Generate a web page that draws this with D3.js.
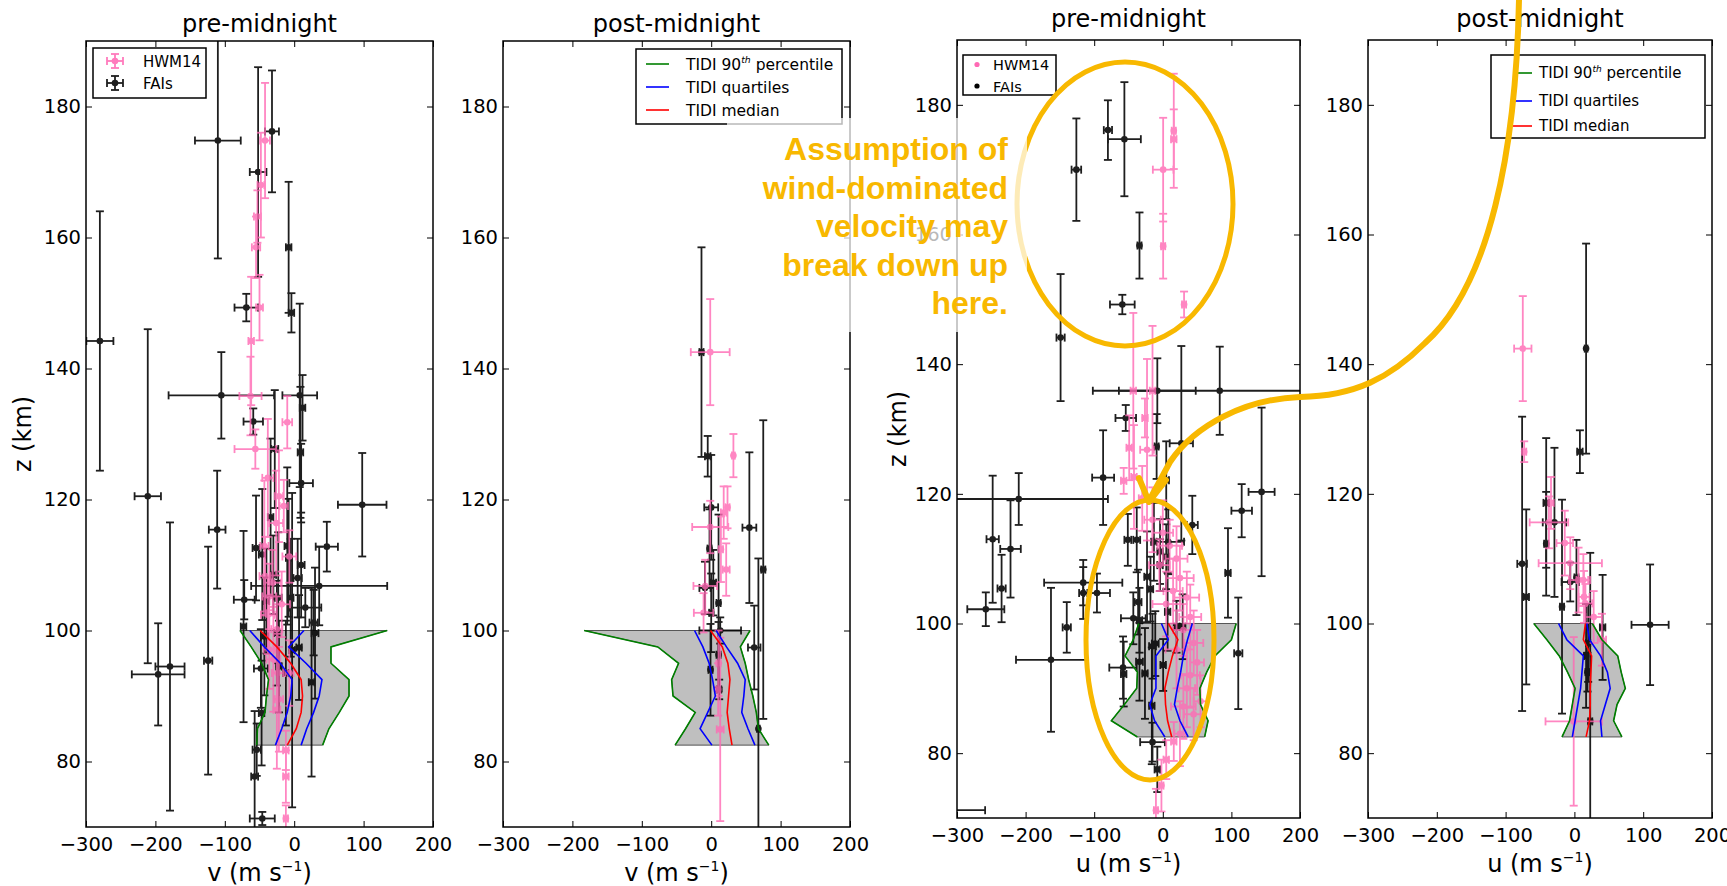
<!DOCTYPE html>
<html>
<head>
<meta charset="utf-8">
<script src="https://cdnjs.cloudflare.com/ajax/libs/d3/7.8.5/d3.min.js"></script>
<style>
  body { margin: 0; background: #fff; }
  svg { font-family: "DejaVu Sans", sans-serif; }
</style>
</head>
<body>
<svg id="chart" width="1727" height="886"></svg>
<script>
// ---- data: errorbar points are [wind, altitude, windErr, altErr] ----
const faiV_pre = [
  [-110,174.8,33,18],[-32,176.2,10,9.3],[-52,170,12,16],[-8,158.5,4,10],[-69,149.3,17,2.1],
  [-4,148.5,4,3],[-280,144.2,19.5,19.8],[-105,135.9,76,6.6],[8,135.9,25,14],[-59,131.9,14,2],
  [12,134,4,5],[-28,127.7,5,9],[9,127.2,4,10],[10,122.5,17,6],[-211,120.5,19,25.5],
  [98,119.2,35,7.9],[-111,115.4,12,9],[-34,117.3,4,12],[-55,112.6,5,8],[-46,111.6,5,10],
  [-10,112.9,4,12],[-8,111.1,4,9],[47,112.8,16,3.8],[36,106.8,98,6],[-40,104.5,4,8],
  [-23,105,5,10],[-5,105,4,9],[16,103.5,23,3],[-72,104.7,15,3],[-73,100.6,4,14.6],
  [30,99.6,5,10],[-43,99.1,5,9],[-25,99.6,4,8],[7,97.4,4,8],[-3,97,4,24],
  [-22,94.5,4,7],[-12,93.5,4,8],[-48,94.2,10,6],[25,92.1,4,14.4],[-179,94.5,21,22],
  [-196,93.3,38,7.8],[-124,95.4,6,17.4],[-47,87.4,4,8],[-54,81.8,6,4],[-57,77.7,5,10],
  [-46,71.3,18,1],[10,110,5,8],[5,108,6,6],[-30,108.5,4,6],[28,101.2,6,5]
];
const hwmV_pre = [
  [-42,174.8,7,8.8],[-48,168,5,8],[-53,163.2,5,4],[-55,158.5,6,4.7],[-50,149.3,5,5],
  [-62,144.2,4,9.8],[-63,135.8,16,6],[-10,131.8,7,4],[-56,127.7,30,3],[-38,123.3,8,9],
  [-22,120.5,6,7],[-26,116.4,10,8],[-43,112.9,6,10],[-7,111.3,10,4],[-42,108.3,8,6],
  [-31,107.3,12,5],[-36,105.2,10,5],[-38,102.4,10,6],[-25,100.2,8,5],[-36,97.1,8,6],
  [-30,95.6,10,8],[-24,93.5,8,6],[-7,93.5,6,5],[-22,89.5,6,8],[-25,87.9,5,9],
  [-12,81.7,4,3],[-12,77.7,4,4],[-12,71.3,3,2],[-15,119,6,4],[-18,104,12,5]
];
const faiV_post = [
  [-14,142.5,3,16],[-5,126.6,4,3.1],[0,118.8,10,8],[-2.4,112.5,3,6],[3,107.3,4,5],
  [-9,106.5,8,4],[0,102.7,3,6],[10.6,104.2,3,13.5],[13,100,30,2],[10.6,96.3,3,5],
  [11.5,91,3,1.5],[-1,94,3,7],[55,115.7,10,11.5],[75,109.3,3,22.8],[62,97.4,9,6.4],
  [68,85,2,26]
];
const hwmV_post = [
  [-1.4,142.5,28,8.1],[32,126.7,2,3.3],[23.5,118.8,3,3.2],[-1.4,115.8,26,4],[14,112.4,3,5],
  [21.6,109.3,5,4],[-8.6,106.8,17,4],[-11,102.7,14,3],[10.6,95,3,5],[10,91,3,4],
  [13,84.9,5,14],[18,118,4,4]
];
const faiU_pre = [
  [-126,170,7,7.9],[-80,176.1,6,4.6],[-56,174.7,24,8.8],[-34,158.3,3,5.1],[-59,149.2,18,1.5],
  [-149,144.1,6,9.8],[-8,135.9,56,5],[83,135.9,185,6.8],[27,127.8,17,15],[-54,131.7,15,2],
  [-9,127.3,3,5],[-87,122.5,16,7.3],[-210,119.2,130,4],[-248,113,9,9.8],[-222,111.5,15,7.5],
  [-235,105.4,6,5.2],[-258,102.2,27,2.6],[-140,99.4,6,3.9],[-163,94.4,51,11.1],[-116,106.3,57,3.5],
  [-116,104.7,6,4],[-96,104.7,19,3],[95,107.8,4,6.9],[115,117.4,15,4.1],[144,120.3,19,13],
  [110,95.4,6,8.6],[43,115.2,8,4.5],[-8,77.5,4,3.5],[-15,81.7,18,3],[-58,93.2,20,4.8],
  [-57,92.2,4,5],[0.5,93.6,4,4],[-26,92.3,4,7],[-34,94.1,5,6],[-16,87.3,4,9],
  [-43,100.8,18,4],[-36,103.3,5,5],[-34,100.5,4,5],[-23,107.2,4,7],[-18,105.3,4,5],
  [-51,112.9,5,4],[-38,112.9,5,5],[-13,112.6,4,6],[-4,111.1,4,5],[8,112.6,23,5],
  [5,110.3,4,5],[-4,109,4,4],[7,101.8,4,6],[20,99.5,4,4],[29,99.5,4,5],
  [-15,96.5,5,5],[-11,96.9,5,5],[5,122.1,4,6],[-330,71.2,71,1]
];
const hwmU_pre = [
  [16,176,3,8.8],[16,174.7,4,4.6],[0.5,170,15,8],[0.5,158.2,3,5],[31,149.2,3,2],
  [-43,135.9,4,12],[-15,135.9,4,10],[-26,131.7,4,3],[-49,127.1,4,5],[-23,126.8,10,14],
  [-42,122.6,4,8],[-57,122,4,2],[-30,119.3,5,5],[-15,116,12,5],[0,114,15,5],
  [10,112,18,4],[20,110,16,5],[-5,109,15,4],[25,107,20,5],[15,105,14,5],
  [35,104,18,4],[5,103,20,5],[40,101,16,5],[30,99,15,4],[45,97,14,5],
  [20,96,16,6],[50,94,10,5],[40,92,14,5],[35,90,12,6],[55,88,10,4],
  [30,87.2,18,5],[45,86,14,4],[25,83,8,5],[16,81.8,4,3],[5,79,4,3],
  [-2,75,3,4],[-10,71.2,3,3.3]
];
const faiU_post = [
  [17,142.4,2,16.2],[8,126.5,4,3.3],[-76,109.2,7,22.7],[-70,104.1,4,13.5],[-41,118.6,4,10],
  [-41,112.3,3,8],[-29,115.6,17,11.5],[-18,102.6,3,16.5],[-6,106.4,12.6,3],[3,107.1,3,5.8],
  [23,84.9,3,26],[41,99.4,4,8.1],[110,99.8,27,9.3],[20,97,3,6],[19,92.5,3,3],[17,95,3,8]
];
const hwmU_post = [
  [-75,142.4,12.6,8.1],[-73,126.5,3,1.6],[-34,118.6,4,4],[-37,115.6,28,4],[-14,112.4,12,5],
  [-6,109.3,46,4],[6,106.7,14,5],[13,106.7,10,4],[14,104.1,8,4],[16,103.1,10,3],
  [28,101,12,4],[40,97.5,6,4],[-1,84.9,41,13]
];

// TIDI profiles (km) and percentiles
const tidiAlt = [100, 97.5, 95, 92.5, 90, 87.5, 85, 82.5];
const tidiV_pre = {
  lo:  [-78, -62, -47, -37, -40, -42, -53, -54],
  q1:  [-64, -43, -20, -3, -5, -10, -18, -27],
  med: [-49, -25, -5, 10, 12, 10, 3, -10],
  q3:  [14, -8, 17, 40, 36, 28, 18, 10],
  hi:  [134, 53, 53, 79, 79, 65, 50, 41]
};
const tidiV_post = {
  lo:  [-183, -77, -47, -57, -55, -23, -37, -52],
  q1:  [-24, -12, -3, 2, 6, -5, -16, 1],
  med: [-1, 16, 24, 27, 25, 23, 26, 30],
  q3:  [7, 22, 38, 49, 47, 44, 53, 63],
  hi:  [56, 42, 49, 54, 60, 65, 68, 83]
};
const tidiU_pre = {
  lo:  [-35, -43, -55, -37, -38, -56, -75, -37],
  q1:  [-2, 8, -10, -10, -10, -19, -12, 3],
  med: [8, 22, 14, 8, 3, 4, 7, 13],
  q3:  [43, 36, 30, 26, 21, 17, 25, 37],
  hi:  [107, 100, 76, 64, 54, 55, 66, 61]
};
const tidiU_post = {
  lo:  [-59, -40, -22, -10, 1, -3, -7, -18],
  q1:  [-23, -11, 13, 11, 9, 5, 1, -3],
  med: [16, 13, 25, 24, 23, 23, 22, 17],
  q3:  [18, 22, 38, 48, 52, 45, 38, 40],
  hi:  [26, 40, 63, 68, 74, 62, 57, 69]
};

const xTicks = [-300, -200, -100, 0, 100, 200];
const yTicks = [80, 100, 120, 140, 160, 180];

const PINK = "#ff69b4", GREEN = "#007f00", BLUE = "#0000ff", RED = "#ff0000";

const svg = d3.select("#chart");

const panels = [
  { id: "p1", left: 86, right: 433, top: 41, bottom: 827, title: "pre-midnight", titleY: 32,
    xlab: "v", ylabX: 23, fai: faiV_pre, hwm: hwmV_pre, tidi: tidiV_pre, legend: "err" },
  { id: "p2", left: 503, right: 850, top: 41, bottom: 827, title: "post-midnight", titleY: 32,
    xlab: "v", ylabX: null, fai: faiV_post, hwm: hwmV_post, tidi: tidiV_post, legend: "tidi" },
  { id: "p3", left: 957, right: 1300, top: 40, bottom: 818, title: "pre-midnight", titleY: 27,
    xlab: "u", ylabX: 898, fai: faiU_pre, hwm: hwmU_pre, tidi: tidiU_pre, legend: "dot" },
  { id: "p4", left: 1368, right: 1712, top: 40, bottom: 818, title: "post-midnight", titleY: 27,
    xlab: "u", ylabX: null, fai: faiU_post, hwm: hwmU_post, tidi: tidiU_post, legend: "tidi2" }
];

function errorbars(g, data, x, y, color, opacity) {
  const cap = 4;
  const grp = g.append("g").attr("stroke", color).attr("fill", color)
    .attr("stroke-width", 1.8).attr("opacity", opacity);
  const eb = grp.selectAll("g").data(data).join("g");
  eb.append("line")
    .attr("x1", d => x(d[0] - d[2])).attr("x2", d => x(d[0] + d[2]))
    .attr("y1", d => y(d[1])).attr("y2", d => y(d[1]));
  eb.append("line")
    .attr("x1", d => x(d[0])).attr("x2", d => x(d[0]))
    .attr("y1", d => y(d[1] - d[3])).attr("y2", d => y(d[1] + d[3]));
  // caps
  [-1, 1].forEach(s => {
    eb.append("line")
      .attr("x1", d => x(d[0] + s * d[2])).attr("x2", d => x(d[0] + s * d[2]))
      .attr("y1", d => y(d[1]) - cap).attr("y2", d => y(d[1]) + cap);
    eb.append("line")
      .attr("x1", d => x(d[0]) - cap).attr("x2", d => x(d[0]) + cap)
      .attr("y1", d => y(d[1] + s * d[3])).attr("y2", d => y(d[1] + s * d[3]));
  });
  eb.append("circle").attr("cx", d => x(d[0])).attr("cy", d => y(d[1])).attr("r", 3.3).attr("stroke", "none");
}

function legendErr(g, cx, cy, color) {
  const s = g.append("g").attr("stroke", color).attr("fill", color).attr("stroke-width", 1.8).attr("opacity", 0.88);
  s.append("line").attr("x1", cx - 8).attr("x2", cx + 8).attr("y1", cy).attr("y2", cy);
  s.append("line").attr("x1", cx).attr("x2", cx).attr("y1", cy - 7).attr("y2", cy + 7);
  [-1, 1].forEach(k => {
    s.append("line").attr("x1", cx + k * 8).attr("x2", cx + k * 8).attr("y1", cy - 4).attr("y2", cy + 4);
    s.append("line").attr("x1", cx - 4).attr("x2", cx + 4).attr("y1", cy + k * 7).attr("y2", cy + k * 7);
  });
  s.append("circle").attr("cx", cx).attr("cy", cy).attr("r", 3.3).attr("stroke", "none");
}

function tidiLegend(g, bx, by, bw, bh, lx1, lx2, tx, ys, fs) {
  g.append("rect").attr("x", bx).attr("y", by).attr("width", bw).attr("height", bh)
    .attr("fill", "#fff").attr("stroke", "#000").attr("stroke-width", 1.5);
  const items = [{ c: GREEN, t: "TIDI 90", sup: "th", rest: " percentile" },
                 { c: BLUE, t: "TIDI quartiles" }, { c: RED, t: "TIDI median" }];
  items.forEach((it, i) => {
    g.append("line").attr("x1", lx1).attr("x2", lx2).attr("y1", ys[i]).attr("y2", ys[i])
      .attr("stroke", it.c).attr("stroke-width", 1.6);
    const t = g.append("text").attr("x", tx).attr("y", ys[i] + fs * 0.36).attr("font-size", fs).text(it.t);
    if (it.sup) {
      t.append("tspan").attr("dy", -fs * 0.4).attr("font-size", fs * 0.6).attr("font-style", "italic").text(it.sup);
      t.append("tspan").attr("dy", fs * 0.4).text(it.rest);
    }
  });
}

panels.forEach(p => {
  const x = d3.scaleLinear().domain([-300, 200]).range([p.left, p.right]);
  const y = d3.scaleLinear().domain([70, 190]).range([p.bottom, p.top]);
  const g = svg.append("g");

  g.append("clipPath").attr("id", "clip-" + p.id).append("rect")
    .attr("x", p.left).attr("y", p.top).attr("width", p.right - p.left).attr("height", p.bottom - p.top);
  const plot = g.append("g").attr("clip-path", `url(#clip-${p.id})`);

  // shaded TIDI 90th percentile envelope
  const poly = tidiAlt.map((a, i) => [x(p.tidi.lo[i]), y(a)])
    .concat(tidiAlt.map((a, i) => [x(p.tidi.hi[i]), y(a)]).reverse());
  plot.append("path").attr("d", "M" + poly.join("L") + "Z")
    .attr("fill", "#bfbfbf").attr("stroke", "#333").attr("stroke-width", 0.8);

  errorbars(plot, p.fai, x, y, "#000", 0.88);
  errorbars(plot, p.hwm, x, y, PINK, 0.8);

  const line = key => d3.line().x((a, i) => x(p.tidi[key][i])).y(a => y(a))(tidiAlt);
  [["lo", GREEN], ["hi", GREEN], ["q1", BLUE], ["q3", BLUE], ["med", RED]].forEach(([k, c]) => {
    plot.append("path").attr("d", line(k)).attr("fill", "none").attr("stroke", c).attr("stroke-width", 1.6);
  });

  // axes (ticks inside on all four sides)
  const fs = 19.5;
  const ax = [
    g.append("g").attr("transform", `translate(0,${p.bottom})`)
      .call(d3.axisBottom(x).tickValues(xTicks).tickSizeInner(-6).tickSizeOuter(0).tickPadding(10)),
    g.append("g").attr("transform", `translate(0,${p.top})`)
      .call(d3.axisTop(x).tickValues(xTicks).tickSizeInner(-6).tickSizeOuter(0).tickFormat("")),
    g.append("g").attr("transform", `translate(${p.left},0)`)
      .call(d3.axisLeft(y).tickValues(yTicks).tickSizeInner(-6).tickSizeOuter(0).tickPadding(5)),
    g.append("g").attr("transform", `translate(${p.right},0)`)
      .call(d3.axisRight(y).tickValues(yTicks).tickSizeInner(-6).tickSizeOuter(0).tickFormat(""))
  ];
  ax.forEach(a => {
    a.select(".domain").remove();
    a.selectAll("line").attr("stroke", "#000").attr("stroke-width", 1);
    a.selectAll("text").attr("font-size", fs).attr("font-family", "DejaVu Sans").attr("fill", "#000");
  });
  g.append("rect").attr("x", p.left).attr("y", p.top).attr("width", p.right - p.left).attr("height", p.bottom - p.top)
    .attr("fill", "none").attr("stroke", "#000").attr("stroke-width", 1.5);

  const cx = (p.left + p.right) / 2;
  g.append("text").attr("x", cx).attr("y", p.titleY).attr("text-anchor", "middle").attr("font-size", 24).text(p.title);

  const xl = g.append("text").attr("x", cx).attr("y", p.bottom + 54).attr("text-anchor", "middle").attr("font-size", 24);
  xl.append("tspan").text(p.xlab + " (m s");
  xl.append("tspan").attr("dy", -10).attr("font-size", 14).text("\u22121");
  xl.append("tspan").attr("dy", 10).text(")");

  if (p.ylabX !== null) {
    g.append("text").attr("transform", `translate(${p.ylabX + 8},${(p.top + p.bottom) / 2}) rotate(-90)`)
      .attr("text-anchor", "middle").attr("font-size", 24).text("z (km)");
  }

  // legends
  if (p.legend === "err") {
    g.append("rect").attr("x", 93).attr("y", 48).attr("width", 113).attr("height", 50)
      .attr("fill", "#fff").attr("stroke", "#000").attr("stroke-width", 1.5);
    legendErr(g, 115, 61, PINK);
    legendErr(g, 115, 83, "#000");
    g.append("text").attr("x", 143).attr("y", 66.5).attr("font-size", 15).text("HWM14");
    g.append("text").attr("x", 143).attr("y", 88.5).attr("font-size", 15).text("FAIs");
  } else if (p.legend === "dot") {
    g.append("rect").attr("x", 963).attr("y", 55).attr("width", 93).attr("height", 40)
      .attr("fill", "#fff").attr("stroke", "#000").attr("stroke-width", 1.5);
    g.append("circle").attr("cx", 977).attr("cy", 64.5).attr("r", 2.6).attr("fill", PINK);
    g.append("circle").attr("cx", 977).attr("cy", 86).attr("r", 2.6).attr("fill", "#000");
    g.append("text").attr("x", 993).attr("y", 70).attr("font-size", 14.5).text("HWM14");
    g.append("text").attr("x", 993).attr("y", 91.5).attr("font-size", 14.5).text("FAIs");
  } else if (p.legend === "tidi") {
    tidiLegend(g, 636, 49, 206, 75, 646, 669, 686, [64, 87, 110], 15.5);
  } else {
    tidiLegend(g, 1491, 55, 214, 83, 1513, 1532, 1539, [73, 101, 126], 15);
  }
});

// ---- hand-drawn annotation overlay (pixel positions) ----
const ORANGE = "#f8b800";
const ann = svg.append("g");
ann.append("ellipse").attr("cx", 1125).attr("cy", 204).attr("rx", 108).attr("ry", 142)
  .attr("fill", "none").attr("stroke", ORANGE).attr("stroke-width", 5);
ann.append("rect").attr("x", 727).attr("y", 118).attr("width", 300).attr("height", 214)
  .attr("fill", "#fff").attr("fill-opacity", 0.72);
["Assumption of", "wind-dominated", "velocity may", "break down up", "here."].forEach((t, i) => {
  ann.append("text").attr("x", 1008).attr("y", 160 + i * 38.5).attr("text-anchor", "end")
    .attr("font-family", "Liberation Sans, Arial, sans-serif").attr("font-weight", "bold")
    .attr("font-size", 32).attr("fill", ORANGE).text(t);
});
ann.append("ellipse").attr("cx", 1150).attr("cy", 640).attr("rx", 64).attr("ry", 140)
  .attr("fill", "none").attr("stroke", ORANGE).attr("stroke-width", 5);
ann.append("path")
  .attr("d", "M1519,0 C1516,150 1490,285 1425,343 C1390,378 1355,396 1300,397 C1245,399 1195,425 1170,462 L1150,499")
  .attr("fill", "none").attr("stroke", ORANGE).attr("stroke-width", 6).attr("stroke-linecap", "round");
ann.append("path").attr("d", "M1139,478 L1149,502 L1166,480")
  .attr("fill", "none").attr("stroke", ORANGE).attr("stroke-width", 6)
  .attr("stroke-linecap", "round").attr("stroke-linejoin", "round");
</script>
</body>
</html>
